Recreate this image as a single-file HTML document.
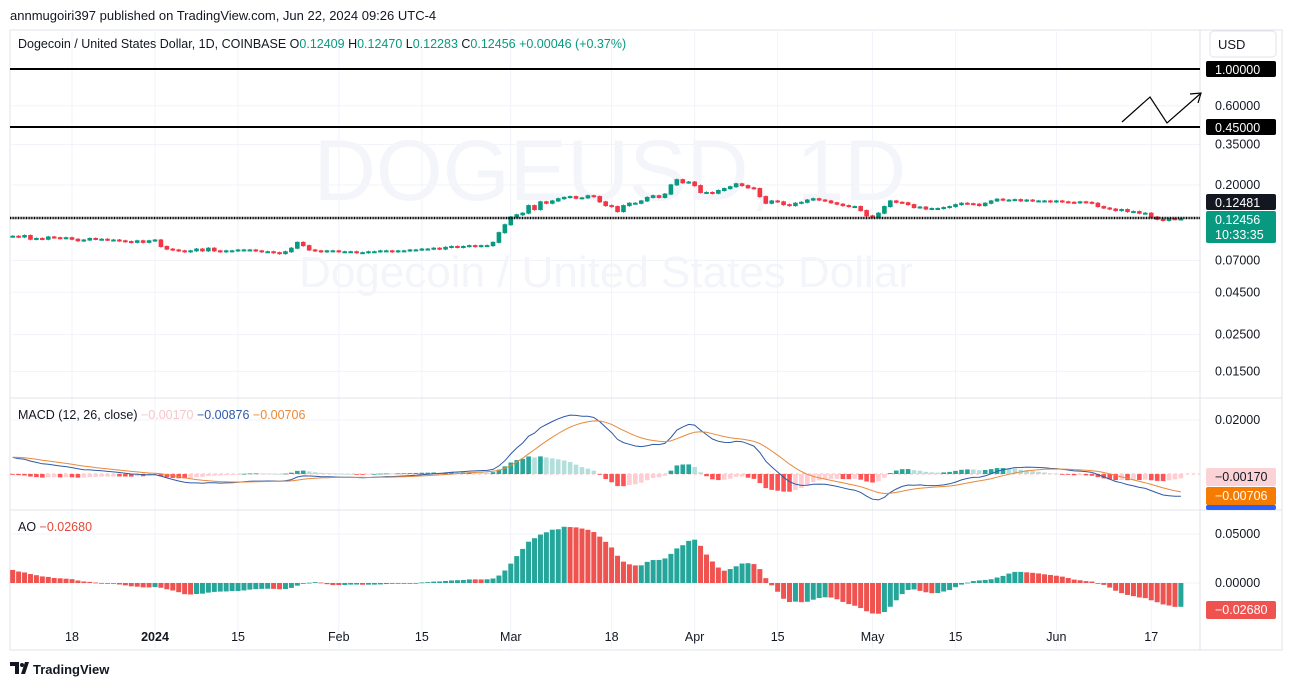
<!DOCTYPE html>
<html><head><meta charset="utf-8">
<style>
html,body{margin:0;padding:0;background:#fff;}
body{width:1292px;height:686px;overflow:hidden;font-family:"Liberation Sans",sans-serif;}
svg text{font-family:"Liberation Sans",sans-serif;}
</style></head>
<body>
<svg id="chart" width="1292" height="686" viewBox="0 0 1292 686" xmlns="http://www.w3.org/2000/svg">
<defs>
<clipPath id="cp"><rect x="10" y="30" width="1190" height="368"/></clipPath>
<clipPath id="cm"><rect x="10" y="400" width="1190" height="110"/></clipPath>
<clipPath id="ca"><rect x="10" y="512" width="1190" height="138"/></clipPath>
</defs>
<rect x="0" y="0" width="1292" height="686" fill="#fff"/>
<text x="10" y="20" font-size="13" fill="#131722">annmugoiri397 published on TradingView.com, Jun 22, 2024 09:26 UTC-4</text>
<rect x="10" y="30" width="1272" height="620" fill="none" stroke="#e0e3eb"/>
<g id="grid"></g>
<text x="610" y="200" font-size="86" fill="#f3f5fa" text-anchor="middle">DOGEUSD, 1D</text>
<text x="606" y="287" font-size="44" fill="#f3f5fa" text-anchor="middle">Dogecoin / United States Dollar</text>
<g id="price" clip-path="url(#cp)"></g>
<g id="macd" clip-path="url(#cm)"></g>
<g id="ao" clip-path="url(#ca)"></g>
<line x1="10" y1="398" x2="1282" y2="398" stroke="#e0e3eb"/>
<line x1="10" y1="510" x2="1282" y2="510" stroke="#e0e3eb"/>
<line x1="1200" y1="30" x2="1200" y2="650" stroke="#e0e3eb"/>
<line x1="10" y1="69" x2="1200" y2="69" stroke="#000" stroke-width="2"/>
<line x1="10" y1="127" x2="1200" y2="127" stroke="#000" stroke-width="2"/>
<line x1="10" y1="218" x2="1200" y2="218" stroke="#000" stroke-width="2.5" stroke-dasharray="1 0.6"/>
<polyline points="1122,122 1150,97 1167,123 1200,94" fill="none" stroke="#000" stroke-width="1.2"/>
<polyline points="1190,94 1201,93 1198,103" fill="none" stroke="#000" stroke-width="1.2"/>
<text x="18" y="48" font-size="12.5" fill="#131722">Dogecoin / United States Dollar, 1D, COINBASE <tspan fill="#131722">O</tspan><tspan fill="#089981">0.12409</tspan> <tspan>H</tspan><tspan fill="#089981">0.12470</tspan> <tspan>L</tspan><tspan fill="#089981">0.12283</tspan> <tspan>C</tspan><tspan fill="#089981">0.12456 +0.00046 (+0.37%)</tspan></text>
<rect x="1210" y="31" width="66" height="26" rx="4" fill="#fff" stroke="#e0e3eb"/>
<text x="1218" y="49" font-size="13" fill="#131722">USD</text>
<text x="18" y="419" font-size="12.5" fill="#131722">MACD (12, 26, close) <tspan fill="#f5c6cb">−0.00170</tspan> <tspan fill="#2e5aa8">−0.00876</tspan> <tspan fill="#e8893a">−0.00706</tspan></text>
<text x="18" y="531" font-size="12.5" fill="#131722">AO <tspan fill="#e04b3a">−0.02680</tspan></text>
<g id="axis"></g>
<g>
<path d="M10 662 h9 v12 h-4 v-8 h-5 z M21 674 l4 -12 h4 l-4 12 z" fill="#131722"/>
<circle cx="22" cy="665" r="2" fill="#131722"/>
<text x="33" y="674" font-size="13" font-weight="bold" fill="#131722">TradingView</text>
</g>
</svg>
<script>
const warmupCloses=[0.066,0.067,0.068,0.068,0.069,0.070,0.072,0.075,0.074,0.073,0.076,0.078,0.080,0.079,0.077,0.076,0.078,0.079,0.080,0.082,0.083,0.081,0.079,0.078,0.080,0.082,0.084,0.085,0.087,0.090,0.092,0.095,0.098,0.100,0.103,0.105,0.102,0.100,0.099,0.098];
const closesDec=[0.098,0.097,0.099,0.094,0.095,0.094,0.097,0.096,0.095,0.096,0.094,0.092,0.093,0.095,0.094,0.094,0.093,0.093,0.092,0.091,0.090,0.092,0.090,0.092];
const closesJan=[0.093,0.085,0.082,0.081,0.080,0.079,0.080,0.082,0.080,0.083,0.080,0.079,0.080,0.080,0.081,0.081,0.081,0.080,0.079,0.079,0.078,0.077,0.079,0.083,0.090,0.086,0.081,0.080,0.079,0.080,0.080];
const closesFeb=[0.079,0.079,0.079,0.078,0.078,0.079,0.079,0.080,0.080,0.079,0.080,0.080,0.081,0.081,0.082,0.082,0.083,0.082,0.084,0.085,0.084,0.085,0.086,0.085,0.086,0.086,0.090,0.103,0.115];
const closesMar=[0.128,0.132,0.135,0.150,0.142,0.158,0.155,0.160,0.165,0.168,0.170,0.166,0.167,0.172,0.170,0.158,0.150,0.148,0.138,0.150,0.155,0.155,0.160,0.168,0.172,0.168,0.176,0.200,0.215,0.206,0.208];
const closesApr=[0.198,0.180,0.180,0.178,0.185,0.190,0.195,0.203,0.198,0.192,0.190,0.170,0.155,0.160,0.158,0.152,0.150,0.155,0.157,0.162,0.165,0.162,0.160,0.156,0.153,0.150,0.148,0.148,0.140,0.130];
const closesMay=[0.128,0.135,0.148,0.160,0.157,0.156,0.152,0.146,0.147,0.143,0.144,0.144,0.146,0.148,0.152,0.155,0.154,0.153,0.150,0.155,0.160,0.164,0.162,0.162,0.163,0.160,0.162,0.160,0.160,0.160,0.158];
const closesJun=[0.160,0.158,0.157,0.156,0.158,0.157,0.155,0.148,0.145,0.143,0.140,0.142,0.138,0.138,0.135,0.135,0.128,0.124,0.122,0.125,0.124,0.12456];
const priceTicks=[1.0,0.6,0.35,0.2,0.07,0.045,0.025,0.015];
const macdTicks=[0.02];
const aoTicks=[0.05,0];
const dateLabels=["18","2024","15","Feb","15","Mar","18","Apr","15","May","15","Jun","17"];
const dateIdx=[10,24,38,55,69,84,101,115,129,145,159,176,192];

const NS="http://www.w3.org/2000/svg";
function mk(parent,tag,attrs){const e=document.createElementNS(NS,tag);for(const k in attrs)e.setAttribute(k,attrs[k]);parent.appendChild(e);return e;}
const closes=[].concat(closesDec,closesJan,closesFeb,closesMar,closesApr,closesMay,closesJun);
const all=warmupCloses.concat(closes);
const W=warmupCloses.length;
const xOf=i=>155+(i-24)*5.93;
const py=v=>69-72*Math.log(v);
const my=v=>474-v*2700;
const ay=v=>583-v*980;
const UP="#089981",DN="#f23645";

const grid=document.getElementById('grid');
dateIdx.forEach(i=>{const l=mk(grid,'line',{x1:xOf(i),x2:xOf(i),y1:30,y2:650,stroke:'#f0f3fa'});

});
priceTicks.forEach(v=>{const l=mk(grid,'line',{x1:10,x2:1200,y1:py(v),y2:py(v),stroke:'#f0f3fa'});

});
[my(0.02),ay(0.05),ay(0)].forEach(y=>{const l=mk(grid,'line',{x1:10,x2:1200,y1:y,y2:y,stroke:'#f0f3fa'});

});

const pg=document.getElementById('price');
for(let i=0;i<closes.length;i++){
 const c=closes[i],o=i===0?all[W-1]:closes[i-1];
 const hi=Math.max(o,c)*1.015,lo=Math.min(o,c)*0.985;
 const col=c>=o?UP:DN,x=xOf(i);
 const w=mk(pg,'line',{x1:x,x2:x,y1:py(hi),y2:py(lo),stroke:col,'stroke-width':1});
 
 
 const yt=py(Math.max(o,c)),yb=py(Math.min(o,c));
 const b=mk(pg,'rect',{x:x-2.3,y:yt-0.5,width:4.6,height:Math.max(2,yb-yt+1),fill:col});
 
 
}

function ema(arr,n){const k=2/(n+1);const out=[];let e=arr[0];arr.forEach((v,i)=>{e=i===0?v:v*k+e*(1-k);out.push(e);});return out;}
const e12=ema(all,12),e26=ema(all,26);
const macd=all.map((v,i)=>e12[i]-e26[i]);
const sig=ema(macd,9);
const hist=macd.map((v,i)=>v-sig[i]);
const mg=document.getElementById('macd');
const zl=mk(mg,'line',{x1:10,x2:1200,y1:my(0),y2:my(0),stroke:'#f5a3a3','stroke-dasharray':'3 3','stroke-width':0.8});


for(let i=0;i<closes.length;i++){
 const h=hist[W+i],p=hist[W+i-1];
 let col=h>=0?(h>=p?"#26a69a":"#b2dfdb"):(h<p?"#ff5252":"#ffcdd2");
 const y0=my(0),y1=my(h);
 const r=mk(mg,'rect',{x:xOf(i)-2.3,y:Math.min(y0,y1),width:4.6,height:Math.max(0.8,Math.abs(y1-y0)),fill:col});
 
 
}
function linePath(arr,fy){let d='';for(let i=0;i<closes.length;i++){d+=(i?'L':'M')+xOf(i).toFixed(1)+' '+fy(arr[W+i]).toFixed(1);}return d;}
const ml=mk(mg,'path',{d:linePath(macd,my),fill:'none',stroke:'#2e5aa8','stroke-width':1});


const sl=mk(mg,'path',{d:linePath(sig,my),fill:'none',stroke:'#e8893a','stroke-width':1});



function sma(arr,n,i){let s=0,c=0;for(let k=Math.max(0,i-n+1);k<=i;k++){s+=arr[k];c++;}return s/c;}
const ao=all.map((v,i)=>sma(all,5,i)-sma(all,34,i));
const ag=document.getElementById('ao');
for(let i=0;i<closes.length;i++){
 const v=ao[W+i],p=ao[W+i-1];
 const col=v>=p?"#26a69a":"#ef5350";
 const y0=ay(0),y1=ay(v);
 const r=mk(ag,'rect',{x:xOf(i)-2.5,y:Math.min(y0,y1),width:5,height:Math.max(0.8,Math.abs(y1-y0)),fill:col});
 
 
}

const ax=document.getElementById('axis');
function txt(x,y,s,attrs){const t=mk(ax,'text',Object.assign({x:x,y:y,'font-size':12.5,fill:'#131722'},attrs||{}));t.textContent=s;return t;}
priceTicks.forEach(v=>{const t=txt(1215,py(v)+4,v.toFixed(5));

});
macdTicks.forEach(v=>{const t=txt(1215,my(v)+4,v.toFixed(5));

});
aoTicks.forEach(v=>{const t=txt(1215,ay(v)+4,v.toFixed(5));

});
dateLabels.forEach((s,k)=>{const t=txt(xOf(dateIdx[k]),641,s,{'text-anchor':'middle','font-weight':s==='2024'?'bold':'normal'});

});
function badge(y,h,bg,fg,lines,name){
 const r=mk(ax,'rect',{x:1206,y:y,width:70,height:h,rx:2,fill:bg});
 
 
 lines.forEach((s,k)=>{const t=txt(1215,y+13+k*15,s,{fill:fg});
 
 });
}
badge(61,16,'#000','#fff',['1.00000'],'level-badge-1');
badge(119,16,'#000','#fff',['0.45000'],'level-badge-045');
badge(194,16,'#131722','#fff',['0.12481'],'level-badge-current');
badge(211,32,'#089981','#fff',['0.12456','10:33:35'],'last-price-badge');
badge(468,18,'#fbd3d7','#131722',['−0.00170'],'histogram-badge');
badge(487,18,'#f57c00','#fff',['−0.00706'],'signal-badge');
badge(505,5,'#2962ff','#fff',[],'macd-badge');
badge(601,18,'#ef5350','#fff',['−0.02680'],'ao-badge');
</script>
</body></html>
